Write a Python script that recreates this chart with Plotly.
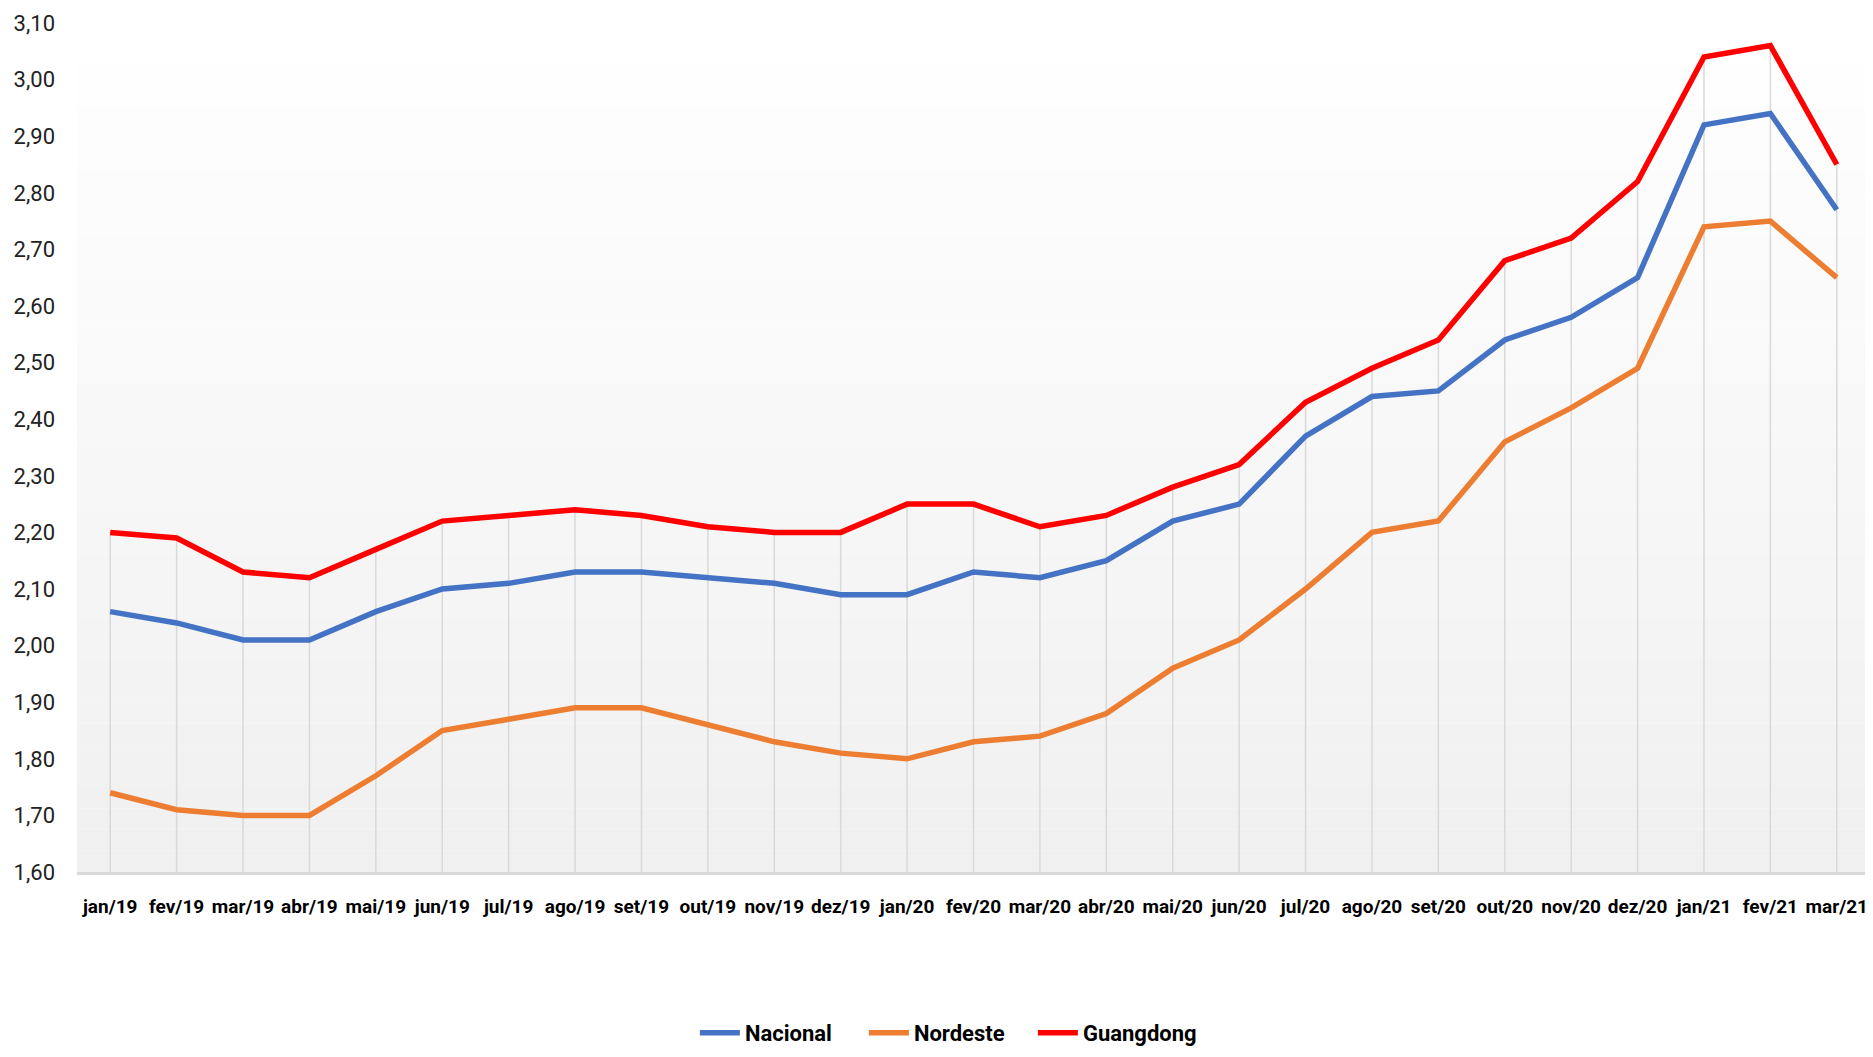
import plotly.graph_objects as go

months = ["jan/19", "fev/19", "mar/19", "abr/19", "mai/19", "jun/19", "jul/19", "ago/19", "set/19",
          "out/19", "nov/19", "dez/19", "jan/20", "fev/20", "mar/20", "abr/20", "mai/20", "jun/20",
          "jul/20", "ago/20", "set/20", "out/20", "nov/20", "dez/20", "jan/21", "fev/21", "mar/21"]

nacional = [2.06, 2.04, 2.01, 2.01, 2.06, 2.10, 2.11, 2.13, 2.13, 2.12, 2.11, 2.09, 2.09, 2.13,
            2.12, 2.15, 2.22, 2.25, 2.37, 2.44, 2.45, 2.54, 2.58, 2.65, 2.92, 2.94, 2.77]
nordeste = [1.74, 1.71, 1.70, 1.70, 1.77, 1.85, 1.87, 1.89, 1.89, 1.86, 1.83, 1.81, 1.80, 1.83,
            1.84, 1.88, 1.96, 2.01, 2.10, 2.20, 2.22, 2.36, 2.42, 2.49, 2.74, 2.75, 2.65]
guangdong = [2.20, 2.19, 2.13, 2.12, 2.17, 2.22, 2.23, 2.24, 2.23, 2.21, 2.20, 2.20, 2.25, 2.25,
             2.21, 2.23, 2.28, 2.32, 2.43, 2.49, 2.54, 2.68, 2.72, 2.82, 3.04, 3.06, 2.85]

series = [("Nacional", nacional, "#4472C4"),
          ("Nordeste", nordeste, "#ED7D31"),
          ("Guangdong", guangdong, "#FF0000")]

Y_MIN, Y_MAX = 1.6, 3.1
FONT = "Roboto, Liberation Sans, sans-serif"

fig = go.Figure()

# drop lines: from the highest series down to the category axis
top_vals = [max(a, b, c) for a, b, c in zip(nacional, nordeste, guangdong)]
dx, dy = [], []
for m, v in zip(months, top_vals):
    dx += [m, m, None]
    dy += [Y_MIN, v, None]
fig.add_trace(go.Scatter(x=dx, y=dy, mode="lines", showlegend=False, hoverinfo="skip",
                         line=dict(color="#d9d9d9", width=1.5)))

for name, vals, color in series:
    fig.add_trace(go.Scatter(x=months, y=vals, name=name, mode="lines",
                             line=dict(color=color, width=5.5)))

# vertical gradient background in the plot area (white at top -> light grey at bottom)
n = 40
shapes = []
for i in range(n):
    t = i / (n - 1)
    g = int(round(255 - (255 - 240) * (1 - t)))
    shapes.append(dict(type="rect", xref="paper", yref="paper", x0=0, x1=1,
                       y0=i / n, y1=(i + 1) / n, layer="below",
                       line=dict(width=0), fillcolor=f"rgb({g},{g},{g})"))

fig.update_layout(
    width=1865, height=1049,
    margin=dict(l=69, r=3, t=15, b=185),
    paper_bgcolor="white", plot_bgcolor="white",
    separators=",.",
    font=dict(family=FONT, size=22, color="#000000"),
    shapes=shapes,
    showlegend=True,
    legend=dict(orientation="h", x=0.486, xanchor="center", y=-0.2144, yanchor="bottom",
                font=dict(family=FONT, size=22, color="#000000", weight="bold"),
                itemwidth=40, entrywidth=114, entrywidthmode="pixels", tracegroupgap=0),
    xaxis=dict(showgrid=False,
               showline=True, linecolor="#d9d9d9", linewidth=3,
               ticks="", range=[-0.5, len(months) - 0.5], tickangle=0,
               categoryorder="array", categoryarray=months,
               tickfont=dict(family=FONT, size=19, color="#000000", weight="bold"),
               ticklabelstandoff=15, fixedrange=True, automargin=False),
    yaxis=dict(range=[Y_MIN, Y_MAX], dtick=0.1, tick0=Y_MIN, tickformat=".2f",
               showgrid=False, zeroline=False, showline=False, ticks="",
               tickfont=dict(family=FONT, size=22, color="#222222"),
               ticklabelstandoff=21, automargin=False),
)

fig.write_html("out.html")
